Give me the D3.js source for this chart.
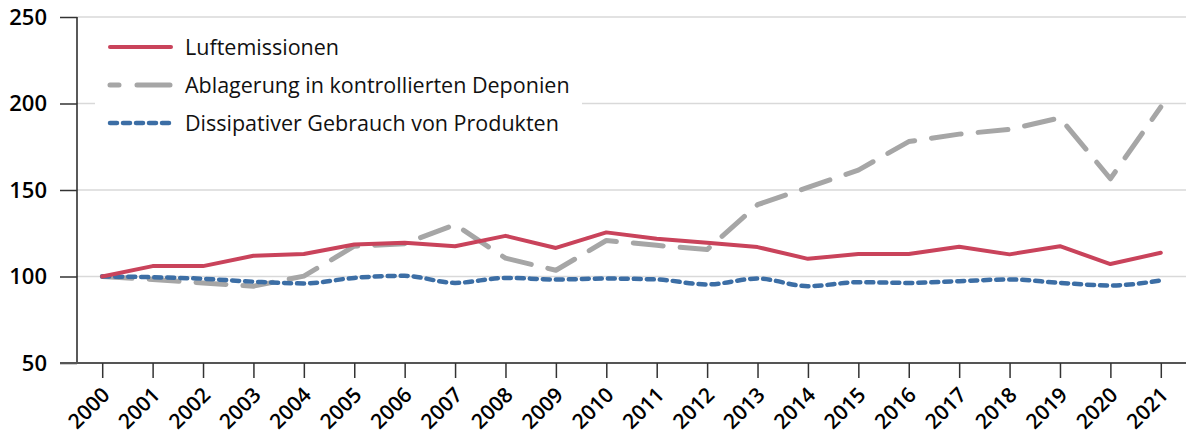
<!DOCTYPE html>
<html>
<head>
<meta charset="utf-8">
<script src="https://cdn.jsdelivr.net/npm/d3@7"></script>
<style>
body { margin: 0; background: #fff; }
svg { display: block; font-family: "Open Sans", "Noto Sans", sans-serif; }
</style>
</head>
<body>
<div class="canvas"></div>
<script>
// data
const years = ['2000','2001','2002','2003','2004','2005','2006','2007','2008','2009','2010',
  '2011','2012','2013','2014','2015','2016','2017','2018','2019','2020','2021'];
const luft = [100, 106, 106, 112, 113, 118.5, 119.5, 117.5, 123.5, 116.5, 125.5,
  121.8, 119.5, 117, 110.2, 113, 113, 117.2, 112.8, 117.5, 107.2, 113.7];
const deponie = [100, 98.3, 96.3, 94.4, 100.2, 117.5, 119, 130, 110.6, 103.6, 120.8,
  118, 115.6, 141.5, 151.5, 161.5, 178, 182.3, 185, 191.7, 156.5, 198];
const dissip = [100, 99.6, 98.7, 97, 96, 99.2, 100.4, 96.3, 99.2, 98.3, 98.8,
  98.3, 95.4, 98.8, 94.4, 96.7, 96.3, 97.3, 98.3, 96.3, 94.8, 97.7];
const yTicks = [50, 100, 150, 200, 250];
const names = ['Luftemissionen', 'Ablagerung in kontrollierten Deponien', 'Dissipativer Gebrauch von Produkten'];

const width = 1186, height = 440;
const margin = {top: 17, right: 0, bottom: 77, left: 77};
const graphWidth = width - margin.left - margin.right;
const graphHeight = height - margin.top - margin.bottom;

const svg = d3.select('.canvas')
  .append('svg')
    .attr('width', width)
    .attr('height', height);

const graph = svg.append('g')
  .attr('transform', `translate(${margin.left},${margin.top})`);

//scales
const x = d3.scalePoint()
  .domain(years)
  .range([0, graphWidth])
  .padding(0.5);
const y = d3.scaleLinear()
  .domain([50, 250])
  .range([graphHeight, 0]);

//gridlines
graph.append('g')
  .selectAll('line')
  .data(yTicks.filter(d => d > 50))
  .enter().append('line')
    .attr('x1', 0)
    .attr('x2', graphWidth)
    .attr('y1', d => y(d))
    .attr('y2', d => y(d))
    .attr('stroke', '#d9d9d9')
    .attr('stroke-width', 1.3);

//series
const series = [
  {name: names[0], values: luft, color: '#C9435B', width: 4, dash: null, curve: d3.curveLinear},
  {name: names[1], values: deponie, color: '#A6A6A6', width: 5, dash: '30 17', curve: d3.curveLinear},
  {name: names[2], values: dissip, color: '#3C6EA5', width: 4.5, dash: '7 6', curve: d3.curveMonotoneX}
];

// draw order: gray, blue, red on top
[series[1], series[2], series[0]].forEach(s => {
  const line = d3.line()
    .x((d, i) => x(years[i]))
    .y(d => y(d))
    .curve(s.curve);
  graph.append('path')
    .datum(s.values)
    .attr('d', line)
    .attr('fill', 'none')
    .attr('stroke', s.color)
    .attr('stroke-width', s.width)
    .attr('stroke-linecap', 'round')
    .attr('stroke-linejoin', 'round')
    .attr('stroke-dasharray', s.dash);
});

//axes
const yAxis = d3.axisLeft(y)
  .tickValues(yTicks)
  .tickSize(17)
  .tickPadding(13);
const yAxisGroup = graph.append('g').call(yAxis);
yAxisGroup.select('.domain').attr('stroke', '#000').attr('stroke-width', 1.3).attr('d', `M0,0V${graphHeight}`);
yAxisGroup.selectAll('.tick line').attr('stroke', '#333').attr('stroke-width', 1.5);
yAxisGroup.selectAll('text')
  .attr('fill', '#000')
  .style('font-size', '22px')
  .style('font-weight', 600)
  .style('font-family', '"Open Sans", sans-serif');

const xAxis = d3.axisBottom(x).tickSize(15).tickSizeOuter(0);
const xAxisGroup = graph.append('g')
  .attr('transform', `translate(0,${graphHeight})`)
  .call(xAxis);
xAxisGroup.select('.domain').attr('stroke', '#555').attr('stroke-width', 2).attr('d', `M-17,0H${graphWidth}`);
xAxisGroup.selectAll('.tick line').attr('stroke', '#333').attr('stroke-width', 1.5);
xAxisGroup.selectAll('text')
  .attr('transform', 'translate(3,28) rotate(-45)')
  .attr('text-anchor', 'end')
  .attr('dy', '0.35em')
  .attr('y', 0)
  .attr('fill', '#000')
  .style('font-size', '21px')
  .style('font-weight', 600)
  .style('font-family', '"Open Sans", sans-serif');

//legend
const legend = svg.append('g').attr('transform', 'translate(95,28)');
legend.append('rect')
  .attr('width', 487)
  .attr('height', 112)
  .attr('fill', '#fff');
series.forEach((s, i) => {
  const g = legend.append('g').attr('transform', `translate(0,${19 + i * 38})`);
  g.append('line')
    .attr('x1', 15).attr('x2', 76)
    .attr('stroke', s.color)
    .attr('stroke-width', s.width)
    .attr('stroke-linecap', 'round')
    .attr('stroke-dasharray', i === 1 ? '9 18 33' : s.dash);
  g.append('text')
    .attr('x', 90)
    .attr('dy', '0.35em')
    .style('font-size', '21.5px')
    .attr('fill', '#111')
    .text(s.name);
});
</script>
</body>
</html>
